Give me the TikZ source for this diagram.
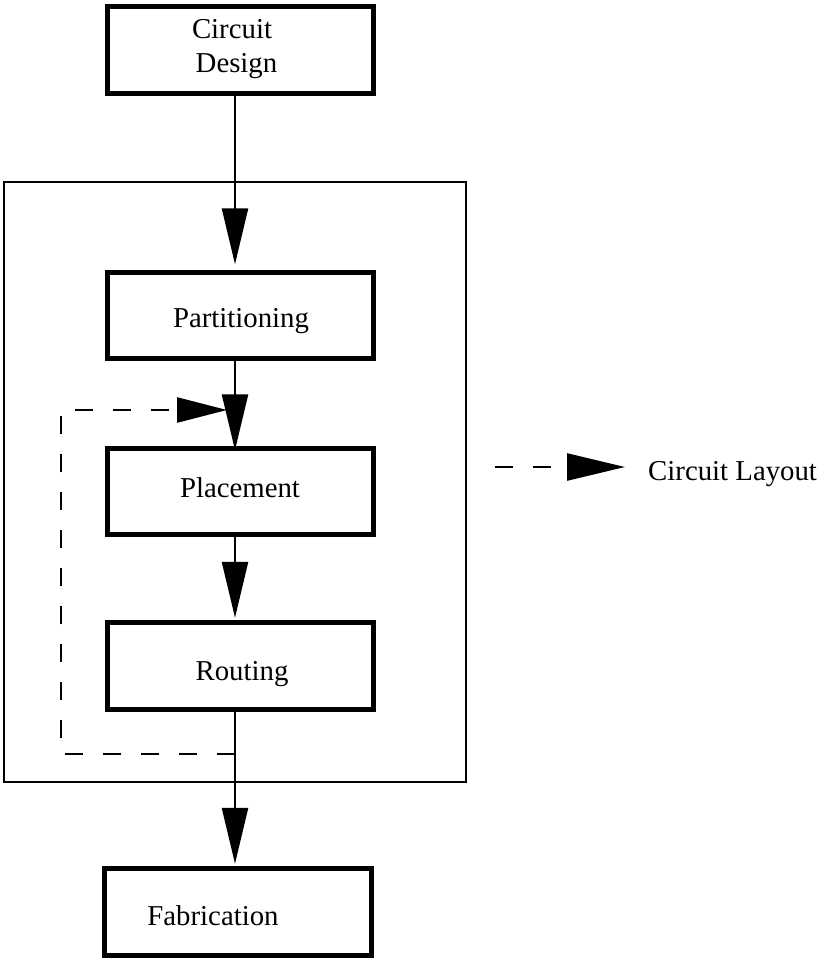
\documentclass[tikz,border=0pt]{standalone}
\usepackage{fontspec}
\setmainfont{Liberation Serif}
\usetikzlibrary{arrows.meta,calc}

\begin{document}
\begin{tikzpicture}[x=1pt,y=-1pt,
  stagebox/.style={draw,line width=5pt,minimum width=265.5pt,minimum height=86.5pt,inner sep=0pt},
  frame/.style={draw,line width=2pt,minimum width=462pt,minimum height=600pt,inner sep=0pt},
  lbl/.style={anchor=base,inner sep=0pt,font=\fontsize{28.8pt}{34pt}\selectfont},
  flow/.style={line width=2.5pt,-{Triangle[length=56pt,width=26pt]}},
  fb/.style={line width=2.5pt,dash pattern=on 18pt off 20pt,-{Triangle[length=50pt,width=25pt]}},
  legendfb/.style={line width=2.5pt,dash pattern=on 18pt off 20pt,-{Triangle[length=58pt,width=27pt]}}]
\useasboundingbox (0,0) rectangle (817,961);

% enclosing frame of the layout stages
\node[frame] (stage) at (235,482) {};

% process boxes
\node[stagebox] (design) at (240.25,49.75) {};
\node[stagebox] (part)   at (240.25,315.5) {};
\node[stagebox] (place)  at (240.25,491.5) {};
\node[stagebox] (route)  at (240.25,666) {};
\node[stagebox,minimum width=267pt] (fab) at (238,912) {};

% box labels
\node[lbl] (designA) at (232,38) {Circuit};
\node[lbl] (designB) at (236.5,72) {Design};
\node[lbl] (partT)   at (241,327) {Partitioning};
\node[lbl] (placeT)  at (240,497) {Placement};
\node[lbl] (routeT)  at (242,680) {Routing};
\node[lbl] (fabT)    at (213,925) {Fabrication};

% main flow column
\coordinate (col) at (235,0);
\draw[flow] (col |- design.south) -- ($(col |- part.north)+(0,-5.5)$);
\draw[flow] ($(col |- part.south)+(0,-5.5)$) -- ($(col |- place.north)+(0,4.5)$);
\draw[flow] (col |- place.south) -- ($(col |- route.north)+(0,-2.5)$);
\draw[flow] (col |- route.south) -- ($(col |- fab.north)+(0,-2.5)$);

% feedback loop from routing back to placement
\coordinate (fbY) at (0,754);
\coordinate (fbX) at (61,0);
\coordinate (fbIn) at (227,410);
\draw[fb] (col |- fbY) -- (fbX |- fbY) -- (fbX |- fbIn) -- (fbIn);

% legend
\coordinate (legA) at (495,467);
\coordinate (legB) at (625,467);
\draw[legendfb] (legA) -- (legB);
\node[lbl,anchor=base west] (legT) at (648,480) {Circuit Layout};
\end{tikzpicture}
\end{document}
